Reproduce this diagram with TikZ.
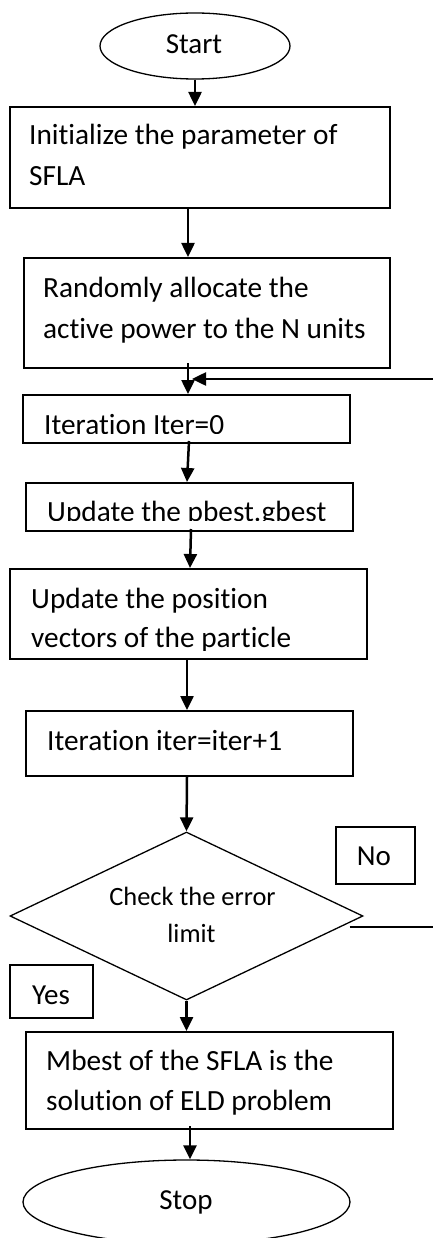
\documentclass[tikz,border=0pt]{standalone}
\usepackage{fontspec}
\setmainfont{Carlito}[Ligatures=NoCommon]
\usetikzlibrary{arrows.meta,shapes.geometric}
\begin{document}
\begin{tikzpicture}[x=1pt,y=-1pt,
  boxst/.style={draw,line width=2pt,rectangle,inner sep=0pt,anchor=center},
  ovalst/.style={draw,line width=1.3pt,ellipse,inner sep=0pt},
  txt/.style={inner sep=0pt,anchor=base west,font=\fontsize{29.3}{34}\selectfont},
  ctxt/.style={inner sep=0pt,anchor=base,font=\fontsize{29}{34}\selectfont},
  dtxt/.style={inner sep=0pt,anchor=base,font=\fontsize{26.4}{32}\selectfont},
  arr/.style={line width=2.5pt,-{Triangle[length=14pt,width=13pt]}},
  thinline/.style={line width=1.3pt}]
\useasboundingbox (0,0) rectangle (433,1238);
\clip (0,0) rectangle (433,1238);
% shapes
\node[ovalst,minimum width=190pt,minimum height=66pt] (start) at (195,46) {};
\node[boxst,minimum width=380pt,minimum height=101pt] (box1) at (200,157.5) {};
\node[boxst,minimum width=366pt,minimum height=110pt] (box2) at (207,313) {};
\node[boxst,minimum width=327pt,minimum height=48pt] (box3) at (186.5,419) {};
\node[boxst,minimum width=327pt,minimum height=48pt] (box4) at (189.5,507) {};
\node[boxst,minimum width=357pt,minimum height=90pt] (box5) at (188.5,614) {};
\node[boxst,minimum width=327pt,minimum height=65pt] (box6) at (189.5,743.5) {};
\node[draw,line width=1.3pt,diamond,inner sep=0pt,aspect=2.1,minimum width=353pt,minimum height=168pt] (dia) at (186.5,916) {};
\node[boxst,minimum width=79pt,minimum height=57pt] (nobox) at (375.5,855.5) {};
\node[boxst,minimum width=83pt,minimum height=53pt] (yesbox) at (51.5,991.5) {};
\node[boxst,minimum width=367pt,minimum height=97pt] (box7) at (209.5,1080.5) {};
\node[ovalst,minimum width=327pt,minimum height=84pt] (stop) at (186.5,1202) {};
% texts
\node[ctxt] (tstart) at (194,54) {Start};
\node[txt] (t1a) at (29,145) {Initialize the parameter of};
\node[txt] (t1b) at (29,186) {SFLA};
\node[txt] (t2a) at (43,298) {Randomly allocate the};
\node[txt] (t2b) at (43,338) {active power to the N units};
\begin{scope}
\clip (20,397) rectangle (352,433);
\node[txt] (t3) at (44,434.5) {Iteration Iter=0};
\end{scope}
\begin{scope}
\clip (27,485) rectangle (352,520);
\node[txt] (t4) at (47,521.5) {Update the pbest.gbest};
\end{scope}
\node[txt] (t5a) at (31,608) {Update the position};
\begin{scope}
\clip (12,615) rectangle (366,650);
\node[txt] (t5b) at (31,647) {vectors of the particle};
\end{scope}
\node[txt] (t6) at (47,750) {Iteration iter=iter+1};
\node[dtxt] (td1) at (192.5,905) {Check the error};
\node[dtxt] (td2) at (191.5,942) {limit};
\node[ctxt] (tno) at (374,865) {No};
\node[ctxt] (tyes) at (51,1004) {Yes};
\node[txt] (t7a) at (46,1070) {Mbest of the SFLA is the};
\node[txt] (t7b) at (46,1110) {solution of ELD problem};
\node[ctxt] (tstop) at (186,1209) {Stop};
% connectors
\coordinate (fbR) at (433,379);
\coordinate (fbL) at (192,379);
\coordinate (noR) at (433,927);
\draw[arr] (start.south) -- (start.south |- box1.north);
\draw[arr] ([xshift=-12pt]box1.south) -- ([xshift=-12pt]box1.south |- box2.north);
\draw[arr] ([xshift=-19pt,yshift=6pt]box2.south) -- ([xshift=1.5pt]box3.north);
\draw[arr] (fbR) -- (fbL);
\draw[arr] ([xshift=2.5pt,yshift=3pt]box3.south) -- ([xshift=-2.5pt]box4.north);
\draw[arr] ([xshift=1.5pt,yshift=3pt]box4.south) -- ([xshift=1.5pt]box5.north);
\draw[arr] ([xshift=-1.5pt]box5.south) -- ([xshift=-2.5pt]box6.north);
\draw[arr] ([xshift=-2.5pt]box6.south) -- (dia.north);
\draw[arr] (dia.south) -- (dia.south |- box7.north);
\draw[arr] ([xshift=-19.5pt,yshift=4pt]box7.south) -- ([xshift=3.5pt]stop.north);
\draw[thinline] ([xshift=-14pt,yshift=-11pt]dia.east) -- (noR);
\end{tikzpicture}
\end{document}
